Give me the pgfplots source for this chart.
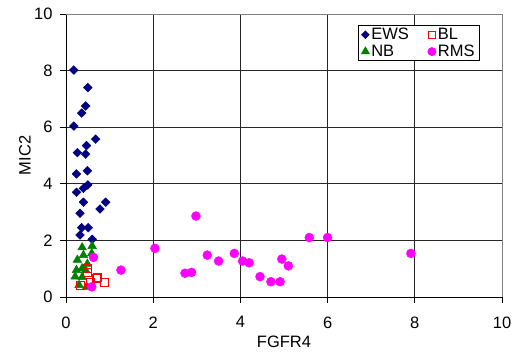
\documentclass[border=0pt]{standalone}
\usepackage{fontspec}
\setmainfont{Liberation Sans}
\usepackage{pgfplots}
\pgfplotsset{compat=1.18}
\definecolor{ewsblue}{RGB}{0,0,128}
\definecolor{nbgreen}{RGB}{0,128,0}
\definecolor{blred}{RGB}{255,0,0}
\definecolor{rmsmag}{RGB}{255,0,255}
\begin{document}
\fontsize{16}{19}\selectfont
\begin{tikzpicture}
\path[use as bounding box] (-66pt,-56pt) rectangle (456pt,297pt);
\begin{axis}[
  scale only axis,
  width=436pt, height=283pt,
  xmin=0, xmax=10, ymin=0, ymax=10,
  xtick={0,2,...,10}, ytick={0,2,...,10},
  axis x line*=bottom, axis y line*=left,
  axis line style={black, line width=0.8pt},
  grid=major,
  major grid style={black!85, line width=0.9pt},
  tick align=outside, major tick length=6pt,
  tick style={black, line width=0.8pt},
  /pgf/number format/assume math mode=true,
  ticklabel style={font=\fontsize{16.5}{19}\selectfont},
  xticklabel style={yshift=-8pt},
  yticklabel style={xshift=-2pt},
  xlabel={FGFR4}, ylabel={MIC2},
  label style={font=\fontsize{16.5}{19}\selectfont},
  xlabel style={at={(axis description cs:0.5,-0.158)}, anchor=center},
  ylabel style={at={(axis description cs:-0.094,0.5)}, anchor=center},
  legend columns=2,
  legend style={at={(axis description cs:0.67,0.96)}, anchor=north west,
    draw=black, line width=0.8pt, fill=white, font=\fontsize{16.5}{19}\selectfont,
    inner xsep=3pt, inner ysep=2pt, row sep=3pt,
    nodes={inner xsep=2pt, inner ysep=0pt},
    /tikz/every even column/.append style={column sep=17pt}},
  legend cell align=left,
  clip=false,
]
% EWS
\addplot[only marks, mark=square*, mark size=3.1pt, mark options={rotate=45, fill=ewsblue, draw=ewsblue}, forget plot] coordinates {
(0.18,8.02) (0.5,7.4) (0.45,6.75) (0.36,6.5) (0.18,6.04) (0.68,5.58) (0.47,5.35)
(0.26,5.1) (0.45,5.05) (0.24,4.35) (0.49,4.46) (0.5,3.96) (0.4,3.84) (0.24,3.7)
(0.4,3.35) (0.91,3.35) (0.78,3.11) (0.32,2.96) (0.36,2.45) (0.51,2.45) (0.32,2.19) (0.6,2.04)
};
% NB
\addplot[only marks, mark=triangle*, mark size=5pt, mark options={fill=nbgreen, draw=nbgreen}, forget plot] coordinates {
(0.37,1.75) (0.6,1.8) (0.4,1.48) (0.59,1.54) (0.26,1.31) (0.49,1.17) (0.24,0.95)
(0.37,1.01) (0.21,0.72) (0.37,0.7) (0.3,0.42) (0.47,0.36) (0.45,0.95)
};
% BL
\addplot[only marks, mark=square, mark size=4pt, mark options={draw=blred, line width=0.9pt, fill=none}, forget plot] coordinates {
(0.49,1.0) (0.49,0.85) (0.73,0.7) (0.88,0.5) (0.32,0.42) (0.57,0.5) (0.7,0.64)
};
% RMS
\addplot[only marks, mark=*, mark size=4.5pt, mark options={fill=rmsmag, draw=rmsmag}, forget plot] coordinates {
(0.63,1.4) (1.26,0.95) (0.59,0.36) (2.04,1.72) (2.98,2.86) (2.73,0.84) (2.88,0.87)
(3.24,1.48) (3.5,1.27) (3.86,1.54) (4.05,1.27) (4.2,1.21) (4.45,0.72) (4.7,0.54)
(4.91,0.54) (4.95,1.34) (5.1,1.1) (5.58,2.1) (6.0,2.1) (7.91,1.54)
};
\draw[gray, line width=0.9pt] (axis cs:0,10) -- (axis cs:10,10) -- (axis cs:10,0);
\addlegendimage{only marks, mark=square*, mark size=2.6pt, mark options={rotate=45, fill=ewsblue, draw=ewsblue}}
\addlegendentry{EWS}
\addlegendimage{only marks, mark=square, mark size=3.5pt, mark options={draw=blred, line width=0.9pt}}
\addlegendentry{BL}
\addlegendimage{only marks, mark=triangle*, mark size=4.5pt, mark options={fill=nbgreen, draw=nbgreen}}
\addlegendentry{NB}
\addlegendimage{only marks, mark=*, mark size=4pt, mark options={fill=rmsmag, draw=rmsmag}}
\addlegendentry{RMS}
\end{axis}
\end{tikzpicture}
\end{document}
